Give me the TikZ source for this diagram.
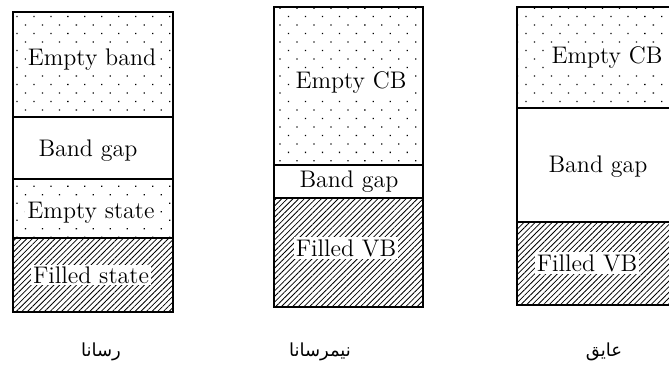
\documentclass[tikz,border=0pt]{standalone}
\usepackage{fontspec}
\usetikzlibrary{patterns.meta}
\newfontfamily\arabicfont[Script=Arabic]{DejaVu Sans}
\TeXXeTstate=1

\begin{document}
\begin{tikzpicture}[
    x=0.5pt, y=-0.5pt,
    band/.style={draw, line width=0.6pt},
    dotband/.style={band, pattern={Dots[distance=6pt, angle=45, radius=0.45pt]}},
    hatchband/.style={band, pattern={Lines[angle=45, distance=2pt, line width=0.4pt]}},
    lbl/.style={fill=white, inner sep=1pt, font=\fontsize{12}{14}\selectfont},
    kind/.style={font=\arabicfont\fontsize{9}{11}\selectfont}
  ]
  \useasboundingbox (0,0) rectangle (669,373);
  \clip (0,0) rectangle (669,373);

  % conductor
  \draw[dotband] (13,12) rectangle (173,117);
  \draw[band] (13,117) rectangle (173,179);
  \draw[dotband] (13,179) rectangle (173,238);
  \draw[hatchband] (13,238) rectangle (173,312);
  \node[lbl] (c-cb) at (92,60) {Empty band};
  \node[lbl] (c-gap) at (88,151) {Band gap};
  \node[lbl] (c-es) at (91,213) {Empty state};
  \node[lbl] (c-fs) at (91,275) {Filled state};
  \node[kind] (c-name) at (101,352) {\beginR رسانا\endR};

  % semiconductor
  \draw[dotband] (274,7) rectangle (423,165);
  \draw[band] (274,165) rectangle (423,198);
  \draw[hatchband] (274,198) rectangle (423,307);
  \node[lbl] (s-cb) at (351,83) {Empty CB};
  \node[lbl] (s-gap) at (349,182) {Band gap};
  \node[lbl] (s-vb) at (346,248) {Filled VB};
  \node[kind] (s-name) at (320,352) {\beginR نیمرسانا\endR};

  % insulator
  \draw[dotband] (517,7) rectangle (695,108);
  \draw[band] (517,108) rectangle (695,222);
  \draw[hatchband] (517,222) rectangle (695,305);
  \node[lbl] (i-cb) at (607,58) {Empty CB};
  \node[lbl] (i-gap) at (598,167) {Band gap};
  \node[lbl] (i-vb) at (587,263) {Filled VB};
  \node[kind] (i-name) at (604,352) {\beginR عایق\endR};
\end{tikzpicture}
\end{document}
